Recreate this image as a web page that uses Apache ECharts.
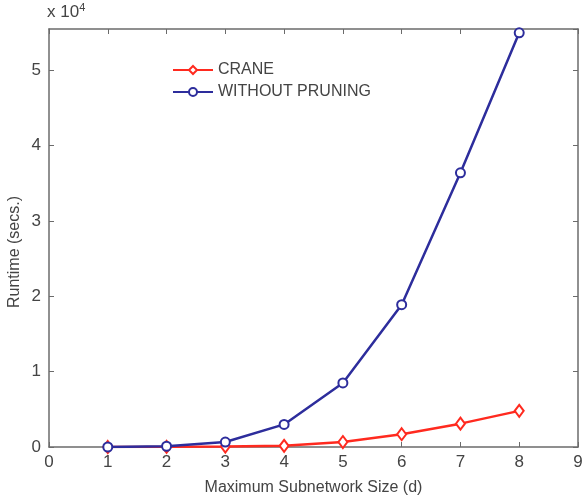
<!DOCTYPE html>
<html lang="en">
<head>
    <meta charset="UTF-8">
    <title>Runtime chart</title>
    <script src="https://cdn.jsdelivr.net/npm/echarts@6/dist/echarts.min.js"></script>
</head>
<body style="margin:0;background:#fff;">
<div id="main" style="width:584px;height:497px;"></div>
<script type="text/javascript">
    // subnetwork size d
    var sizes = [1, 2, 3, 4, 5, 6, 7, 8];
    // runtime in units of 10^4 secs
    var crane = [0, 0.002, 0.005, 0.015, 0.066, 0.17, 0.31, 0.48];
    var noPruning = [0, 0.01, 0.066, 0.30, 0.85, 1.89, 3.64, 5.50];

    function pairs(ys) {
        return sizes.map(function (x, i) { return [x, ys[i]]; });
    }

    var font = 'Liberation Sans, Arial, sans-serif';
    var axisColor = '#6b6b6b';
    var txtColor = '#444';

    var myChart = echarts.init(document.getElementById('main'));
    myChart.setOption({
        animation: false,
        textStyle: { fontFamily: font },
        grid: { left: 49, right: 6, top: 29, bottom: 50, outerBoundsMode: 'none', containLabel: false },
        graphic: [{
            type: 'text', left: 47, top: 2,
            style: {
                text: '{a|x 10}{b|4}',
                rich: {
                    a: { fontSize: 17, fill: txtColor, fontFamily: font },
                    b: { fontSize: 11, fill: txtColor, fontFamily: font, verticalAlign: 'top', padding: [0, 0, 10, 0] }
                }
            }
        }, {
            type: 'text', x: 15, y: 252, rotation: Math.PI / 2,
            style: {
                text: 'Runtime (secs.)', fontSize: 16, fill: txtColor, fontFamily: font,
                align: 'center', verticalAlign: 'middle'
            }
        }],
        legend: {
            orient: 'vertical', left: 167, top: 57, itemGap: 6,
            itemWidth: 40, itemHeight: 10,
            textStyle: { fontSize: 16, color: txtColor, fontFamily: font },
            data: ['CRANE', 'WITHOUT PRUNING']
        },
        xAxis: [{
            type: 'value', min: 0, max: 9, interval: 1,
            name: 'Maximum Subnetwork Size (d)', nameLocation: 'middle', nameGap: 33,
            nameTextStyle: { fontSize: 16, color: txtColor },
            axisLine: { lineStyle: { color: axisColor, width: 1.5 } },
            axisTick: { inside: true, length: 5, lineStyle: { color: axisColor } },
            axisLabel: { fontSize: 17, color: txtColor, margin: 7 },
            splitLine: { show: false }
        }, {
            type: 'value', min: 0, max: 9, interval: 1, position: 'top',
            axisLine: { onZero: false, lineStyle: { color: axisColor, width: 1.5 } },
            axisTick: { inside: true, length: 5, lineStyle: { color: axisColor } },
            axisLabel: { show: false },
            splitLine: { show: false }
        }],
        yAxis: [{
            type: 'value', min: 0, max: 5.55, interval: 1,
            axisLine: { show: true, lineStyle: { color: axisColor, width: 1.5 } },
            axisTick: { show: true, inside: true, length: 5, lineStyle: { color: axisColor } },
            axisLabel: { fontSize: 17, color: txtColor, margin: 8, showMaxLabel: false },
            splitLine: { show: false }
        }, {
            type: 'value', min: 0, max: 5.55, interval: 1, position: 'right',
            axisLine: { show: true, onZero: false, lineStyle: { color: axisColor, width: 1.5 } },
            axisTick: { show: true, inside: true, length: 5, lineStyle: { color: axisColor } },
            axisLabel: { show: false },
            splitLine: { show: false }
        }],
        series: [{
            name: 'CRANE', type: 'line',
            data: pairs(crane),
            symbol: 'emptyDiamond', symbolSize: [9, 12],
            itemStyle: { color: '#ff2a1f', borderColor: '#ff2a1f', borderWidth: 2 },
            lineStyle: { color: '#ff2a1f', width: 2.5 },
            z: 2
        }, {
            name: 'WITHOUT PRUNING', type: 'line',
            data: pairs(noPruning),
            symbol: 'emptyCircle', symbolSize: 9,
            itemStyle: { color: '#2d2d9c', borderColor: '#2d2d9c', borderWidth: 2 },
            lineStyle: { color: '#2d2d9c', width: 2.5 },
            z: 3
        }]
    });
</script>
</body>
</html>
